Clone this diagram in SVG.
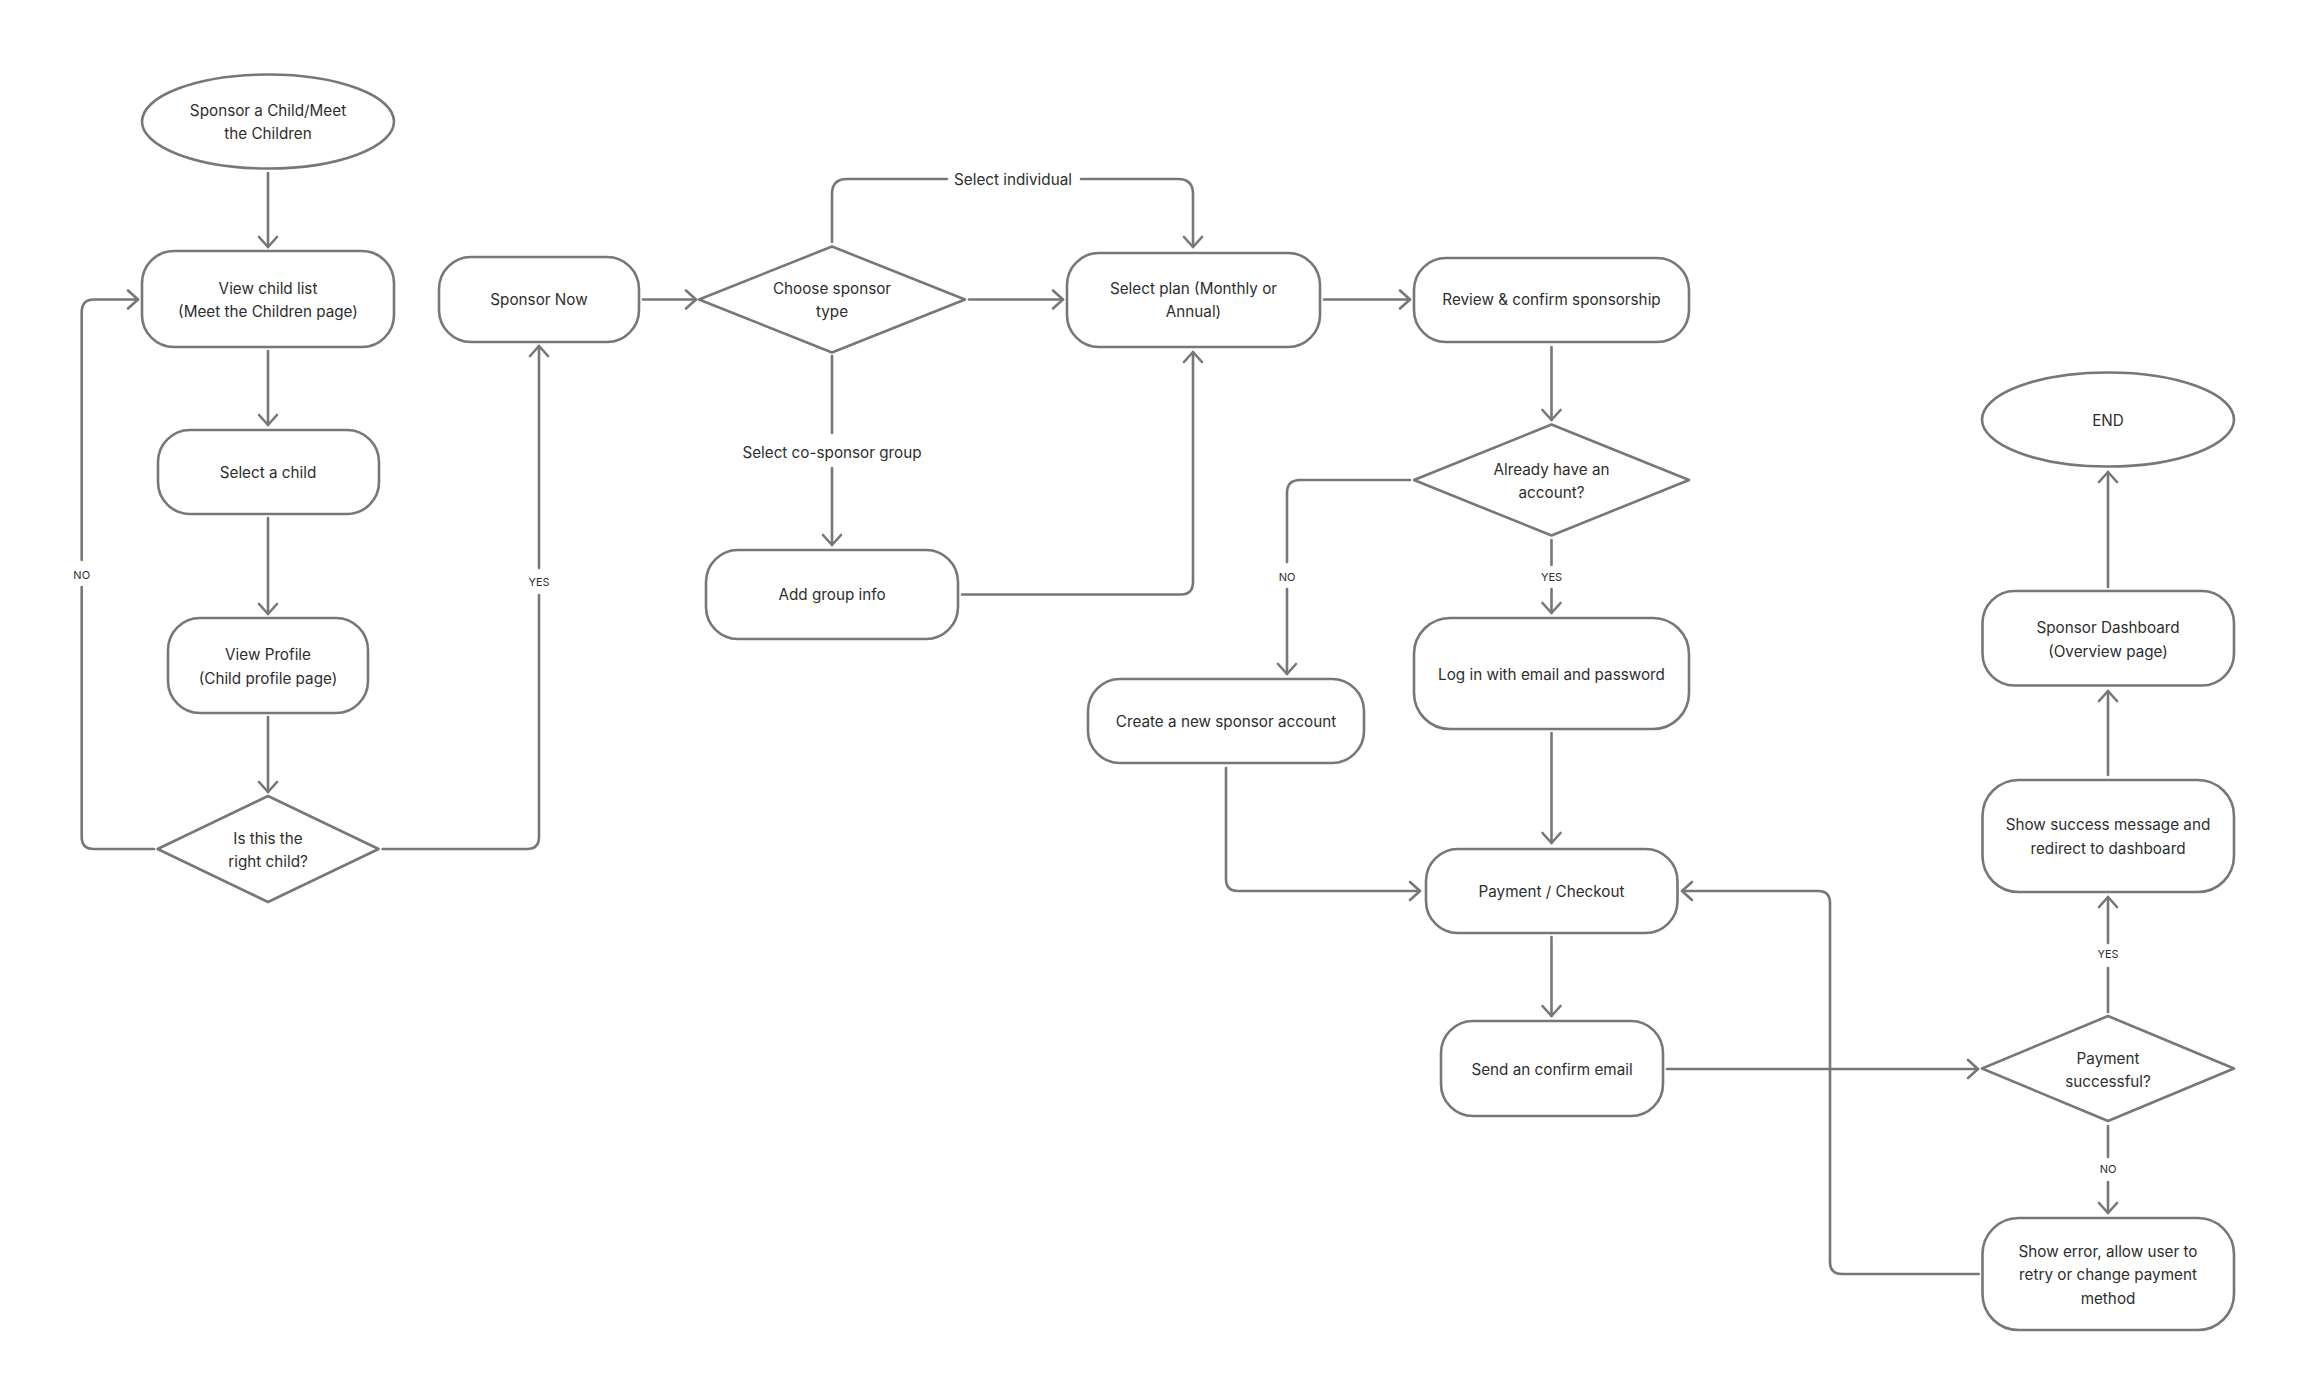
<svg xmlns="http://www.w3.org/2000/svg" width="2320" height="1392" viewBox="0 0 2320 1392">
<defs>
<style>
.n{fill:#fff;stroke:#777;stroke-width:2.6;stroke-linejoin:round}
.t{font-family:Inter,"Noto Sans","Liberation Sans",sans-serif;font-size:15.25px;fill:#2e2e2e;text-anchor:middle}
.s{font-family:Inter,"Noto Sans","Liberation Sans",sans-serif;font-size:11px;fill:#2e2e2e;text-anchor:middle}
.c{fill:none;stroke:#777;stroke-width:2.6;stroke-linecap:round;stroke-linejoin:round}
.a{marker-end:url(#arr)}
</style>
<marker id="arr" markerUnits="userSpaceOnUse" viewBox="0 0 24 24" markerWidth="24" markerHeight="24" refX="12" refY="12" orient="auto">
<path d="M2,3 L12,12 L2,21" fill="none" stroke="#777" stroke-width="2.6" stroke-linecap="round" stroke-linejoin="round"/>
</marker>
</defs>
<rect width="2320" height="1392" fill="#fff"/>
<g id="connectors">
<path class="c a" d="M268,173 L268,247"/>
<path class="c a" d="M268,351 L268,425"/>
<path class="c a" d="M268,518 L268,614"/>
<path class="c a" d="M268,717 L268,792"/>
<path class="c" d="M154,849 L94,849 Q81.7,849 81.7,837 L81.7,587"/>
<path class="c a" d="M81.7,560 L81.7,312 Q81.7,299.5 94,299.5 L138,299.5"/>
<text class="s" x="81.7" y="578.5">NO</text>
<path class="c" d="M382.6,849 L527,849 Q539,849 539,837 L539,595"/>
<path class="c a" d="M539,568 L539,346"/>
<text class="s" x="539" y="585.5">YES</text>
<path class="c a" d="M643,299.5 L696,299.5"/>
<path class="c a" d="M969,299.5 L1063,299.5"/>
<path class="c" d="M832,242 L832,194 Q832,179 847,179 L947,179"/>
<path class="c a" d="M1081,179 L1178,179 Q1193,179 1193,194 L1193,247"/>
<text class="t" x="1013" y="184.5">Select individual</text>
<path class="c" d="M832,356 L832,433"/>
<path class="c a" d="M832,468 L832,545"/>
<text class="t" x="832" y="457.5">Select co-sponsor group</text>
<path class="c a" d="M962,594.5 L1181,594.5 Q1193,594.5 1193,582 L1193,352"/>
<path class="c a" d="M1324,299.5 L1410,299.5"/>
<path class="c a" d="M1551.5,347 L1551.5,420"/>
<path class="c" d="M1410,480 L1300,480 Q1287,480 1287,493 L1287,562"/>
<path class="c a" d="M1287,589 L1287,674"/>
<text class="s" x="1287" y="581">NO</text>
<path class="c" d="M1551.5,540 L1551.5,565"/>
<path class="c a" d="M1551.5,589 L1551.5,613"/>
<text class="s" x="1551.5" y="581">YES</text>
<path class="c a" d="M1226,768 L1226,879 Q1226,891 1238,891 L1420,891"/>
<path class="c a" d="M1551.5,733 L1551.5,843"/>
<path class="c a" d="M1551.5,937 L1551.5,1016"/>
<path class="c a" d="M1667,1069 L1978,1069"/>
<path class="c" d="M2108,1012 L2108,968"/>
<path class="c a" d="M2108,943 L2108,897"/>
<text class="s" x="2108" y="958">YES</text>
<path class="c a" d="M2108,775 L2108,691"/>
<path class="c a" d="M2108,587 L2108,472"/>
<path class="c" d="M2108,1126 L2108,1157"/>
<path class="c a" d="M2108,1182 L2108,1213"/>
<text class="s" x="2108" y="1173">NO</text>
<path class="c a" d="M1978.7,1274 L1842,1274 Q1830,1274 1830,1262 L1830,903 Q1830,891 1818,891 L1682,891"/>
</g>
<g id="start">
<ellipse class="n" cx="268" cy="121.5" rx="126" ry="47"/>
<text class="t" x="268" y="115.5">Sponsor a Child/Meet</text>
<text class="t" x="268" y="139">the Children</text>
</g>
<g id="view-list">
<rect class="n" x="142" y="251" width="252" height="96" rx="32"/>
<text class="t" x="268" y="293.5">View child list</text>
<text class="t" x="268" y="316.5">(Meet the Children page)</text>
</g>
<g id="select-child">
<rect class="n" x="158" y="430" width="221" height="84" rx="32"/>
<text class="t" x="268" y="477.5">Select a child</text>
</g>
<g id="view-profile">
<rect class="n" x="168" y="618" width="200" height="95" rx="32"/>
<text class="t" x="268" y="659.5">View Profile</text>
<text class="t" x="268" y="683.5">(Child profile page)</text>
</g>
<g id="right-child">
<polygon class="n" points="268,796 378.6,849 268,902 157.6,849"/>
<text class="t" x="268" y="843.5">Is this the</text>
<text class="t" x="268" y="866.5">right child?</text>
</g>
<g id="sponsor-now">
<rect class="n" x="439" y="257" width="200" height="85" rx="32"/>
<text class="t" x="539" y="305">Sponsor Now</text>
</g>
<g id="choose-type">
<polygon class="n" points="832,246.5 965,299.5 832,352.5 699,299.5"/>
<text class="t" x="832" y="293.5">Choose sponsor</text>
<text class="t" x="832" y="316.5">type</text>
</g>
<g id="add-group">
<rect class="n" x="706" y="550" width="252" height="89" rx="32"/>
<text class="t" x="832" y="600">Add group info</text>
</g>
<g id="select-plan">
<rect class="n" x="1067" y="253" width="253" height="94" rx="32"/>
<text class="t" x="1193.5" y="293.5">Select plan (Monthly or</text>
<text class="t" x="1193.5" y="316.5">Annual)</text>
</g>
<g id="review">
<rect class="n" x="1414" y="258" width="275" height="84" rx="32"/>
<text class="t" x="1551.5" y="305">Review &amp; confirm sponsorship</text>
</g>
<g id="has-account">
<polygon class="n" points="1551.5,424.5 1689,480 1551.5,535.5 1414,480"/>
<text class="t" x="1551.5" y="474.5">Already have an</text>
<text class="t" x="1551.5" y="498">account?</text>
</g>
<g id="create-account">
<rect class="n" x="1088" y="679" width="276" height="84" rx="32"/>
<text class="t" x="1226" y="726.5">Create a new sponsor account</text>
</g>
<g id="login">
<rect class="n" x="1414" y="618" width="275" height="111" rx="36"/>
<text class="t" x="1551.5" y="679.5">Log in with email and password</text>
</g>
<g id="payment">
<rect class="n" x="1426" y="849" width="251.5" height="84" rx="32"/>
<text class="t" x="1551.5" y="896.5">Payment / Checkout</text>
</g>
<g id="send-email">
<rect class="n" x="1441" y="1021" width="222" height="95" rx="32"/>
<text class="t" x="1552" y="1074.5">Send an confirm email</text>
</g>
<g id="payment-ok">
<polygon class="n" points="2108,1016 2234,1068.5 2108,1121 1982,1068.5"/>
<text class="t" x="2108" y="1063.5">Payment</text>
<text class="t" x="2108" y="1086.5">successful?</text>
</g>
<g id="success">
<rect class="n" x="1982.5" y="780" width="251.5" height="112" rx="36"/>
<text class="t" x="2108" y="829.5">Show success message and</text>
<text class="t" x="2108" y="853.5">redirect to dashboard</text>
</g>
<g id="dashboard">
<rect class="n" x="1982.5" y="591" width="251.5" height="94.5" rx="32"/>
<text class="t" x="2108" y="632.5">Sponsor Dashboard</text>
<text class="t" x="2108" y="656.5">(Overview page)</text>
</g>
<g id="end">
<ellipse class="n" cx="2108" cy="419.5" rx="126" ry="47"/>
<text class="t" x="2108" y="425.5">END</text>
</g>
<g id="error">
<rect class="n" x="1982.5" y="1218" width="251.5" height="112" rx="36"/>
<text class="t" x="2108" y="1256.5">Show error, allow user to</text>
<text class="t" x="2108" y="1280">retry or change payment</text>
<text class="t" x="2108" y="1303.5">method</text>
</g>
</svg>
